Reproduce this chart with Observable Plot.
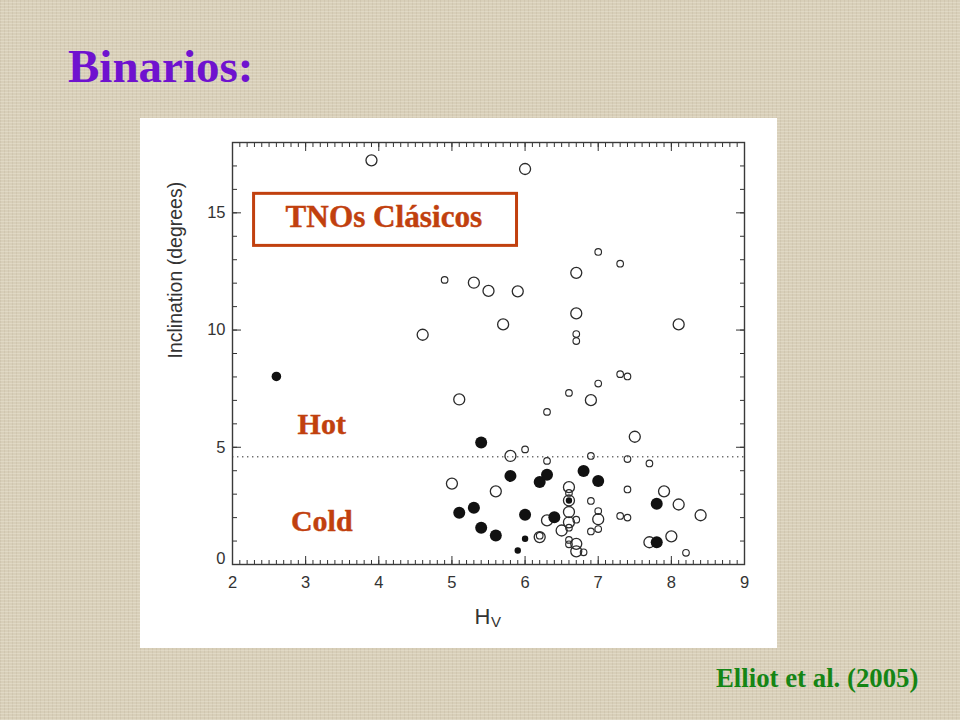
<!DOCTYPE html>
<html><head><meta charset="utf-8">
<script src="https://cdn.jsdelivr.net/npm/d3@7"></script>
<script src="https://cdn.jsdelivr.net/npm/@observablehq/plot@0.6"></script>
<style>
html,body{margin:0;padding:0;}
body{width:960px;height:720px;position:relative;overflow:hidden;background-color:#d8cfb9;
background-image:
 repeating-linear-gradient(0deg, rgba(255,252,240,0.22) 0px, rgba(255,252,240,0.22) 1px, transparent 1px, transparent 3px),
 repeating-linear-gradient(90deg, rgba(130,110,80,0.09) 0px, rgba(130,110,80,0.09) 1px, transparent 1px, transparent 4px);}
#title{position:absolute;left:68px;top:42.6px;font-family:"Liberation Serif","Times New Roman",serif;font-weight:bold;font-size:47px;line-height:47px;color:#6f12cf;white-space:nowrap;}
#panel{position:absolute;left:140px;top:118px;width:637px;height:530px;background:#fff;}
#caption{position:absolute;left:716px;top:664.6px;font-family:"Liberation Serif","Times New Roman",serif;font-weight:bold;font-size:26.8px;line-height:26.8px;color:#158515;white-space:nowrap;}
</style></head>
<body>
<div id="title">Binarios:</div>
<div id="panel"></div>
<div id="caption">Elliot et al. (2005)</div>
<script>
// [H_V, inclination (deg)]
const openLarge = [
  [3.9,17.24],[6.0,16.87],[5.3,12.02],[5.5,11.67],[5.9,11.65],[6.7,12.44],[6.7,10.71],
  [5.7,10.24],[4.6,9.80],[8.1,10.24],[6.9,7.01],[5.1,7.04],[7.5,5.45],[5.8,4.63],
  [5.0,3.45],[6.6,3.30],[5.6,3.12],[7.9,3.12],[6.6,2.73],[8.1,2.56],[6.6,2.24],
  [6.3,1.88],[7.0,1.93],[8.4,2.10],[6.6,1.80],[6.5,1.45],[6.2,1.17],[8.0,1.20],
  [7.7,0.95],[6.7,0.88],[6.7,0.56]
];
const openSmall = [
  [4.9,12.14],[7.0,13.33],[7.3,12.83],[6.7,9.83],[6.7,9.53],[7.3,8.12],[7.4,8.02],
  [7.0,7.72],[6.6,7.32],[6.3,6.51],[6.0,4.91],[6.9,4.63],[7.4,4.50],[6.3,4.42],
  [7.7,4.31],[7.4,3.20],[6.6,3.05],[6.9,2.71],[7.0,2.28],[7.3,2.07],[7.4,2.00],
  [6.7,1.91],[6.6,1.57],[6.9,1.41],[7.0,1.51],[6.2,1.23],[6.6,1.05],[6.6,0.86],
  [6.8,0.52],[8.2,0.50]
];
const filledLarge = [
  [5.4,5.20],[5.8,3.78],[6.2,3.52],[6.3,3.83],[6.8,3.99],[7.0,3.56],[5.1,2.21],
  [5.3,2.42],[6.0,2.12],[6.4,2.02],[5.4,1.57],[5.6,1.24],[7.8,2.59],[7.8,0.95]
];
const filledMid = [[2.6,8.02]];
const filledSmall = [[6.6,2.73],[6.0,1.10],[5.9,0.60]];

const hotColdLimit = [4.6];
const xDomain = [2, 9];
const yDomain = [0, 18];
const xMajor = [2,3,4,5,6,7,8,9];
const xMinor = d3.range(20, 91).map(d => d / 10);
const yMajor = [0,5,10,15];
const yMinor = d3.range(0, 19);
const yTickLabels = [5,10,15];
const yZeroLabel = [0];

const boxTitle = ["TNOs Clásicos"];
const boxTitlePos = [4.07, 14.39];
const boxH = [2.295, 5.89];
const boxInc = [13.59, 15.81];
const regionNames = ["Hot", "Cold"];
const regionH = [3.22, 3.22];
const regionInc = [5.585, 1.41];
const yLabel = ["Inclination (degrees)"];

const ink = "#333";
const accent = "#c1400e";
const serif = "Liberation Serif, Times New Roman, serif";
const intFmt = d3.format("d");

const chart = Plot.plot({
  width: 637, height: 530,
  marginLeft: 92, marginRight: 33, marginTop: 24, marginBottom: 84,
  x: {domain: xDomain},
  y: {domain: yDomain},
  style: {background: "transparent", fontFamily: "Liberation Sans, Arial, sans-serif", color: ink, overflow: "visible"},
  marks: [
    Plot.ruleY(hotColdLimit, {stroke: "#707070", strokeWidth: 1.5, strokeDasharray: "1.4,3.6"}),
    // ticks (inward)
    Plot.axisX({anchor: "bottom", ticks: xMinor, tickSize: -4, fill: "none", label: null, stroke: ink}),
    Plot.axisX({anchor: "bottom", ticks: xMajor, tickSize: -8, fill: "none", label: null, stroke: ink}),
    Plot.axisX({anchor: "top", ticks: xMinor, tickSize: -4, fill: "none", label: null, stroke: ink}),
    Plot.axisX({anchor: "top", ticks: xMajor, tickSize: -8, fill: "none", label: null, stroke: ink}),
    Plot.axisY({anchor: "left", ticks: yMinor, tickSize: -5, fill: "none", label: null, stroke: ink}),
    Plot.axisY({anchor: "left", ticks: yMajor, tickSize: -9, fill: "none", label: null, stroke: ink}),
    Plot.axisY({anchor: "right", ticks: yMinor, tickSize: -5, fill: "none", label: null, stroke: ink}),
    Plot.axisY({anchor: "right", ticks: yMajor, tickSize: -9, fill: "none", label: null, stroke: ink}),
    // tick labels
    Plot.axisX({anchor: "bottom", ticks: xMajor, tickFormat: intFmt, tickSize: 0, tickPadding: 12, fontSize: 16.5, label: null, fill: ink}),
    Plot.axisY({anchor: "left", ticks: yTickLabels, tickFormat: intFmt, tickSize: 0, tickPadding: 7, fontSize: 16.5, label: null, fill: ink}),
    Plot.axisY({anchor: "left", ticks: yZeroLabel, tickFormat: intFmt, tickSize: 0, tickPadding: 7, fontSize: 16.5, label: null, fill: ink, dy: -6}),
    Plot.frame({stroke: "#3a3a3a", strokeWidth: 1.4}),
    // axis titles
    Plot.text(yLabel, {text: d => d, frameAnchor: "left", dx: -57, dy: 5, rotate: -90, fontSize: 19.5, fill: ink}),
    Plot.text(["H"], {text: d => d, frameAnchor: "bottom", dx: 2, dy: 59, textAnchor: "end", lineAnchor: "bottom", fontSize: 22, fill: ink}),
    Plot.text(["V"], {text: d => d, frameAnchor: "bottom", dx: 2.5, dy: 62, textAnchor: "start", lineAnchor: "bottom", fontSize: 15, fill: ink}),
    // annotation box
    Plot.rect([0], {x1: () => boxH[0], x2: () => boxH[1], y1: () => boxInc[0], y2: () => boxInc[1], fill: "white", stroke: accent, strokeWidth: 3}),
    Plot.text(boxTitle, {text: d => d, x: () => boxTitlePos[0], y: () => boxTitlePos[1], lineAnchor: "bottom", fontSize: 31.2, fontWeight: "bold", fontFamily: serif, fill: accent, stroke: accent, strokeWidth: 0.4}),
    Plot.text(regionNames, {text: d => d, x: (d, i) => regionH[i], y: (d, i) => regionInc[i], lineAnchor: "bottom", fontSize: 30, fontWeight: "bold", fontFamily: serif, fill: accent, stroke: accent, strokeWidth: 0.4}),
    // data
    Plot.dot(openLarge, {x: d => d[0], y: d => d[1], r: 5.5, stroke: "#2b2b2b", strokeWidth: 1.3, fill: "none"}),
    Plot.dot(openSmall, {x: d => d[0], y: d => d[1], r: 3.3, stroke: "#2b2b2b", strokeWidth: 1.15, fill: "none"}),
    Plot.dot(filledLarge, {x: d => d[0], y: d => d[1], r: 6, fill: "#111", stroke: "none"}),
    Plot.dot(filledMid, {x: d => d[0], y: d => d[1], r: 4.8, fill: "#111", stroke: "none"}),
    Plot.dot(filledSmall, {x: d => d[0], y: d => d[1], r: 3.2, fill: "#111", stroke: "none"})
  ]
});
document.getElementById("panel").appendChild(chart);
</script>
</body></html>
